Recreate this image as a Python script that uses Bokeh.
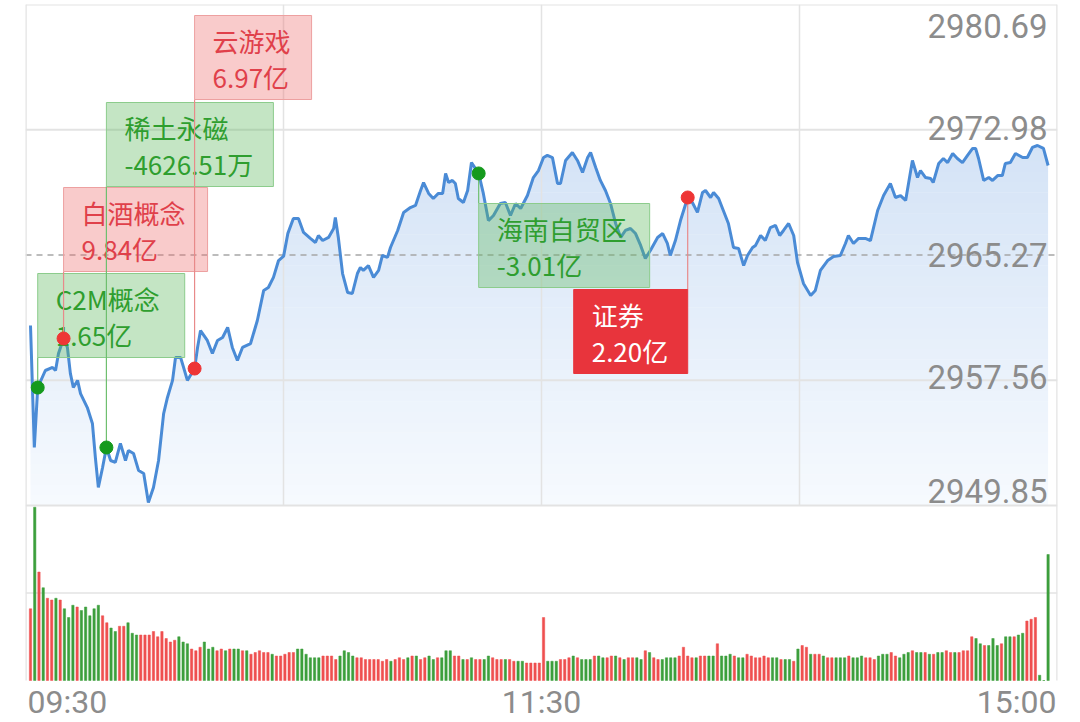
import numpy as np
from bokeh.plotting import figure
from bokeh.models import Range1d
from bokeh.embed import file_html
from bokeh.resources import INLINE
from bokeh.core.properties import value

# ---------------- data ----------------
# minutes since 09:30 (afternoon session continues after 11:30 without gap)
t_min = [0, 0.9, 1.7, 3.5, 5.2, 5.9, 6.6, 7.8, 8.7, 9.4, 10.1, 11.1, 11.8, 13.4, 14.6, 15.3, 16.0, 17.0, 17.9, 18.9,
         20.0, 21.2, 22.4, 23.1, 24.3, 25.5, 26.7, 27.8, 29.0, 30.2, 31.4, 32.3, 33.5, 34.2, 35.4, 36.1, 37.0, 38.7, 39.4, 40.1,
         41.7, 42.9, 44.1, 45.3, 46.5, 47.6, 48.8, 50.0, 51.9, 53.5, 55.0, 56.1, 57.3, 58.5, 59.7, 60.7, 62.0, 63.2, 64.4, 66.0,
         67.2, 67.9, 68.9, 70.3, 71.5, 71.9, 72.6, 73.6, 74.8, 75.9, 77.1, 77.8, 78.5, 79.7, 80.9, 82.1, 83.0, 84.2, 84.9, 86.6,
         88.0, 89.6, 90.8, 92.0, 92.7, 93.9, 95.0, 96.2, 97.2, 97.9, 98.6, 99.5, 100.2, 100.9, 102.1, 103.1, 104.0, 105.7, 106.8, 108.0,
         109.2, 110.8, 112.0, 113.2, 114.4, 115.6, 117.2, 118.6, 119.8, 121.0, 121.9, 123.1, 124.3, 125.0, 126.2, 127.8, 129.0, 130.2, 131.4, 132.1,
         133.3, 134.4, 135.6, 136.8, 138.0, 139.2, 140.3, 141.5, 142.7, 143.9, 145.0, 146.2, 147.9, 149.1, 150.2, 150.9, 152.1, 153.3, 155.0, 156.1,
         157.3, 158.5, 159.2, 160.4, 161.1, 162.3, 163.4, 164.6, 165.8, 167.0, 168.2, 169.1, 170.3, 171.0, 172.2, 173.3, 174.5, 175.7, 176.7, 177.6,
         178.8, 180.0, 180.9, 182.3, 184.0, 185.1, 186.3, 188.0, 189.4, 191.0, 192.2, 192.9, 194.1, 195.3, 196.9, 198.1, 199.8, 201.2, 202.8, 204.0,
         205.2, 206.4, 208.0, 209.2, 209.9, 211.1, 212.3, 212.9, 214.2, 215.3, 216.3, 217.5, 218.6, 219.8, 221.0, 222.2, 222.9, 223.6, 224.8, 226.0,
         226.9, 228.1, 229.2, 229.9, 231.1, 232.3, 234.0, 235.1, 236.3, 237.5, 238.9, 240.0]
price = [2960.93, 2953.42, 2957.11, 2958.16, 2958.35, 2958.16, 2959.21, 2960.13, 2959.58, 2957.98, 2957.11, 2957.55, 2956.74, 2955.88, 2954.90, 2952.80, 2950.96, 2952.19, 2953.42, 2952.62,
         2952.50, 2953.67, 2952.62, 2953.24, 2953.05, 2952.00, 2951.82, 2950.03, 2950.96, 2952.62, 2955.51, 2956.50, 2957.55, 2958.96, 2958.96, 2958.35, 2957.55, 2958.28, 2959.58, 2960.62,
         2960.01, 2959.21, 2960.01, 2960.19, 2960.81, 2959.58, 2958.78, 2959.58, 2959.82, 2961.24, 2963.09, 2963.27, 2963.89, 2964.93, 2965.20, 2966.60, 2967.52, 2967.52, 2966.66, 2966.29,
         2966.04, 2966.47, 2966.16, 2966.35, 2966.90, 2967.58, 2966.35, 2964.13, 2962.96, 2962.90, 2964.13, 2964.50, 2964.32, 2964.62, 2963.89, 2964.32, 2965.24, 2965.12, 2965.73, 2966.78,
         2967.89, 2968.19, 2968.32, 2969.24, 2969.73, 2969.06, 2968.75, 2969.06, 2969.06, 2970.29, 2969.73, 2969.86, 2969.67, 2968.75, 2968.50, 2969.24, 2970.96, 2970.29, 2969.06, 2967.39,
         2967.70, 2968.44, 2968.50, 2967.70, 2968.44, 2968.13, 2968.93, 2970.04, 2970.47, 2971.27, 2971.40, 2971.27, 2969.67, 2969.67, 2971.09, 2971.58, 2971.09, 2970.35, 2971.27, 2971.58,
         2970.66, 2969.86, 2969.24, 2968.44, 2967.21, 2966.35, 2966.78, 2966.90, 2966.59, 2965.86, 2965.06, 2965.55, 2966.35, 2966.59, 2965.98, 2965.24, 2966.16, 2967.39, 2968.81, 2968.50,
         2967.89, 2969.12, 2969.24, 2968.81, 2969.12, 2968.75, 2968.01, 2967.21, 2965.73, 2965.67, 2964.62, 2965.24, 2965.73, 2965.86, 2966.47, 2966.16, 2966.96, 2967.09, 2966.47, 2966.78,
         2967.21, 2966.47, 2964.81, 2963.52, 2962.78, 2963.09, 2964.32, 2964.93, 2965.18, 2965.24, 2965.98, 2966.47, 2965.98, 2966.29, 2966.29, 2966.16, 2968.01, 2968.93, 2969.67, 2968.81,
         2968.93, 2968.63, 2971.09, 2970.04, 2970.47, 2970.04, 2969.98, 2969.73, 2970.90, 2971.21, 2970.96, 2971.52, 2971.21, 2970.96, 2971.40, 2971.83, 2971.83, 2971.21, 2969.86, 2970.04,
         2969.86, 2970.16, 2970.16, 2970.90, 2970.96, 2971.52, 2971.27, 2971.27, 2971.89, 2972.01, 2971.83, 2970.78]

# per-minute volume (relative units, 100 = top of volume panel), index 0 = 09:30
vol = [41, 99, 62, 53, 47, 46, 47, 46, 41, 36,
       43, 42, 40, 42, 37, 41, 43, 37, 33, 30,
       28, 31, 31, 33, 27, 26, 26, 26, 26, 28,
       25, 28, 24, 22, 23, 25, 22, 21, 18, 17,
       19, 22, 18, 19, 17, 18, 17, 18, 18, 18,
       17, 17, 15, 16, 17, 16, 16, 15, 14, 14,
       15, 16, 16, 18, 18, 15, 13, 13, 13, 14,
       14, 14, 12, 14, 17, 16, 14, 13, 13, 12,
       12, 12, 12, 11, 12, 11, 12, 13, 12, 13,
       14, 14, 12, 13, 14, 12, 13, 13, 17, 17,
       14, 14, 12, 12, 13, 12, 12, 12, 14, 13,
       12, 12, 12, 12, 11, 11, 11, 10, 10, 10,
       10, 36, 11, 11, 11, 12, 12, 13, 14, 13,
       12, 12, 12, 14, 14, 13, 13, 14, 14, 13,
       12, 13, 13, 13, 12, 17, 16, 13, 12, 12,
       13, 13, 13, 14, 19, 14, 13, 13, 14, 14,
       14, 14, 21, 14, 14, 15, 14, 13, 13, 15,
       14, 13, 13, 14, 13, 13, 13, 12, 12, 12,
       11, 18, 20, 19, 15, 15, 15, 14, 13, 13,
       13, 13, 13, 14, 13, 13, 14, 13, 13, 12,
       14, 15, 15, 16, 14, 13, 15, 16, 17, 16,
       16, 16, 15, 15, 16, 16, 17, 16, 16, 16,
       17, 17, 25, 24, 21, 20, 20, 24, 20, 21,
       25, 25, 25, 26, 27, 34, 35, 36, 3, 0,
       72]
# r = up minute (red), g = down minute (green)
vol_dir = ("rgrgrrgrgg" "grgggggrrg" "grrgggrrrr" "rrrrrgggrr" "rgggrrgrgg"
           "rgrrrrrgrr" "rrrggggggr" "rrrggggrrr" "rrrrrgrrrg" "rgrrggrggg"
           "rrgrgrrggr" "rrgrrggrrr" "rrgggrrrgr" "gggrggrrgr" "grrggrgrrg"
           "gggrrrrgrr" "ggrgggrggr" "rrrrrggrgg" "rgrrgrrgrr" "gggrgggrrr"
           "gggrrgggrg" "grgrggrrgr" "rrrggrgggr" "ggrggrrrgg" "g")

price_ticks = [2980.69, 2972.98, 2965.27, 2957.56, 2949.85]
prev_close = 2965.27
time_labels = ["09:30", "11:30", "15:00"]

# capital-flow events marked on the line
ev_t = [1.7, 7.8, 17.9, 38.7, 105.7, 155.0]
ev_p = [2957.11, 2960.13, 2953.42, 2958.28, 2970.29, 2968.81]
ev_name = ["C2M概念", "白酒概念", "稀土永磁", "云游戏", "海南自贸区", "证券"]
ev_amt = ["1.65亿", "9.84亿", "-4626.51万", "6.97亿", "-3.01亿", "2.20亿"]
ev_kind = ["g", "r", "g", "r", "g", "R"]

# ---------------- layout ----------------
W, H = 1078, 720
ML, MR, MT, MB = 25, 21, 4, 0
FW, FH = W - ML - MR, H - MT - MB
PAGE_TOP = MT
PPM = 4.24                       # px per minute
X0 = -1.18
X1 = X0 + FW / PPM
P_TOP, P_BOT = price_ticks[0], price_ticks[-1]
PRICE_PX = 501
K = (P_TOP - P_BOT) / PRICE_PX   # price per px
Y0 = P_TOP - FH * K
VOL_BASE_PAGE = 680
VOL_PX = 175                     # px for 100 volume units
VU = 100.0 / VOL_PX              # volume units per px
V_BOT = -(H - VOL_BASE_PAGE) * VU
V_TOP = V_BOT + FH * VU


def py(y_page):
    return P_TOP - (y_page - PAGE_TOP) * K


p = figure(width=W, height=H, x_range=Range1d(X0, X1), y_range=Range1d(Y0, P_TOP),
           x_axis_type=None, y_axis_type=None, toolbar_location=None, output_backend="svg",
           min_border_left=ML, min_border_right=MR, min_border_top=MT, min_border_bottom=MB,
           background_fill_color="white", border_fill_color="white")
p.extra_y_ranges = {"vol": Range1d(V_BOT, V_TOP)}
p.outline_line_color = None

# gradient area under the price line
t = np.array(t_min, dtype=float)
pr = np.array(price, dtype=float)
xf = np.linspace(t[0], t[-1], 2400)
yf = np.interp(xf, t, pr)
N = 48
levels = np.linspace(P_BOT, P_TOP, N + 1)
c_bot = np.array([247, 250, 254.0])
c_top = np.array([198, 218, 243.0])
eps = 0.4 * K
for k in range(N):
    a, b = levels[k], levels[k + 1]
    fr = (k + 0.5) / N
    c = c_bot + (c_top - c_bot) * fr
    col = "#%02x%02x%02x" % tuple(int(round(v)) for v in c)
    y2 = np.clip(yf, a, b)
    y1 = np.where(yf > a, a - (eps if k > 0 else 0), a)
    p.varea(x=xf, y1=y1, y2=y2, fill_color=col, fill_alpha=1.0)

# grid and borders
GRID = "#e3e3e3"
gx = [X0 + (X1 - X0) * q / 4 for q in (1, 2, 3)]
p.segment(x0=gx, x1=gx, y0=P_BOT, y1=P_TOP, line_color=GRID, line_width=1.5)
hy = [price_ticks[1], price_ticks[3], P_BOT, P_TOP]
p.segment(x0=X0, x1=X1, y0=hy, y1=hy, line_color=GRID, line_width=2)
p.segment(x0=[X0], x1=[X1], y0=[prev_close], y1=[prev_close], line_color="#a6a6a6",
          line_width=1.5, line_dash="6 5")
p.segment(x0=[X0], x1=[X1], y0=[50], y1=[50], line_color=GRID, line_width=1.5, y_range_name="vol")
p.segment(x0=[X0, X1], x1=[X0, X1], y0=[0, 0], y1=[V_TOP, V_TOP], line_color=GRID,
          line_width=2.5, y_range_name="vol")

# volume bars
idx = list(range(len(vol)))
RED, GREEN = "#ef4f4f", "#3c9f3c"
bar_col = [RED if c == "r" else GREEN for c in vol_dir]
p.vbar(x=idx, top=vol, bottom=0, width=0.55, fill_color=bar_col, line_color=bar_col,
       line_width=0.5, y_range_name="vol")

# price line
p.line(t, pr, line_color="#4a8bd6", line_width=3)

# event boxes
box_top_page = [273, 187, 102, 15, 203, 289]
box_w_px = [147, 144, 167, 117, 171, 114]
BOX_H = 84
STY = {
    "g": dict(fill="#5cb85c", alpha=0.36, line="#8ccc8c", text="#2f9e2f", conn="#6fbf6f"),
    "r": dict(fill="#ee7070", alpha=0.36, line="#eda0a0", text="#e0404a", conn="#e88a8a"),
    "R": dict(fill="#e8343c", alpha=1.0, line="#e8343c", text="#ffffff", conn="#e88a8a"),
}
for j in range(len(ev_t)):
    s = STY[ev_kind[j]]
    top = py(box_top_page[j])
    bot = py(box_top_page[j] + BOX_H)
    w = box_w_px[j] / PPM
    if ev_kind[j] == "R":
        left, right = ev_t[j] - w, ev_t[j]
    else:
        left, right = ev_t[j], ev_t[j] + w
    edge = bot if bot > ev_p[j] else top
    p.segment(x0=[ev_t[j]], x1=[ev_t[j]], y0=[ev_p[j]], y1=[edge], line_color=s["conn"], line_width=1.2)
    p.quad(left=[left], right=[right], top=[top], bottom=[bot], fill_color=s["fill"],
           fill_alpha=s["alpha"], line_color=s["line"], line_width=1)
    tx = left + 18 / PPM
    p.text(x=[tx, tx], y=[py(box_top_page[j] + 25), py(box_top_page[j] + 61)],
           text=[ev_name[j], ev_amt[j]], text_font=value("Noto Sans CJK SC"),
           text_font_size="26px", text_color=s["text"], text_align="left", text_baseline="middle")

dot_col = ["#159a1d" if k == "g" else "#ee3535" for k in ev_kind]
p.scatter(ev_t, ev_p, size=13, fill_color=dot_col, line_color=dot_col)

# price tick labels (inside, right)
off_px = [21, -2, 0, -3, -15]
lab_y = [v - o * K for v, o in zip(price_ticks, off_px)]
p.text(x=[X1 - 10 / PPM] * 5, y=lab_y, text=["%.2f" % v for v in price_ticks],
       text_font=value("Roboto"), text_font_size="33px", text_color="#8c8c8c",
       text_align="right", text_baseline="middle")

# time labels below the volume panel
ty = -(701 - VOL_BASE_PAGE) * VU
p.text(x=[X0 + 2 / PPM, (X0 + X1) / 2, X1 - 1 / PPM], y=[ty] * 3, text=time_labels,
       text_align=["left", "center", "right"], text_font=value("Roboto"), text_font_size="32px",
       text_color="#8c8c8c", text_baseline="middle", y_range_name="vol")

open("out.html", "w").write(file_html(p, INLINE))
